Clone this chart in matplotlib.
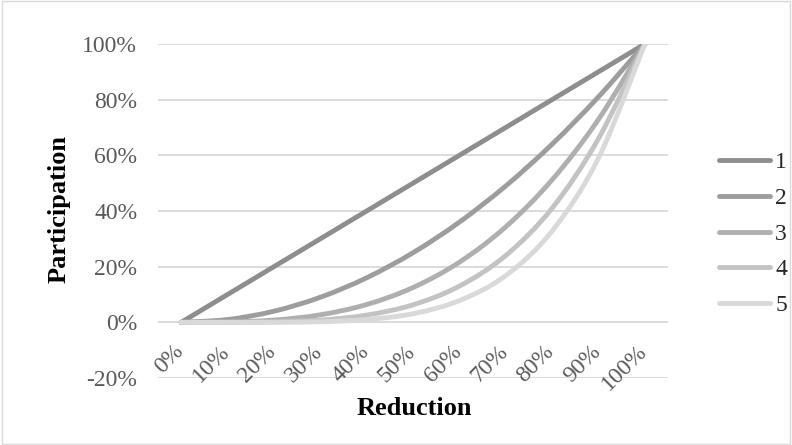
import numpy as np
import matplotlib
matplotlib.use("Agg")
import matplotlib.pyplot as plt
from matplotlib.path import Path
from matplotlib.patches import PathPatch, Rectangle
from matplotlib.lines import Line2D

# ---------------------------------------------------------------------
# DATA (in %)
# ---------------------------------------------------------------------
x_labels = ["0%", "10%", "20%", "30%", "40%", "50%", "60%", "70%", "80%", "90%", "100%"]
series_names = ["1", "2", "3", "4", "5"]

s1 = [0, 10, 20, 30, 40, 50, 60, 70, 80, 90, 100]
s2 = [0, 1, 4, 9, 16, 25, 36, 49, 64, 81, 100]
s3 = [0, 0.1, 0.8, 2.7, 6.4, 12.5, 21.6, 34.3, 51.2, 72.9, 100]
s4 = [0, 0, 0.2, 0.8, 2.6, 6.3, 13, 24, 41, 66, 100]
s5 = [0, 0, 0, 0.2, 1, 3.1, 7.8, 16.8, 32.8, 59, 100]

y_ticks = [-20, 0, 20, 40, 60, 80, 100]

colors = ["#8e8e8e", "#9d9d9d", "#afafaf", "#c3c3c3", "#d9d9d9"]

plt.rcParams["font.family"] = ["Liberation Serif", "DejaVu Serif"]

LW = 3.5
FS = 17


# ---------------------------------------------------------------------
# smoothed line like Excel (bezier through the points)
# ---------------------------------------------------------------------
def smooth_path(xs, ys):
    pts = np.column_stack([xs, ys]).astype(float)
    n = len(pts)
    verts = [pts[0]]
    codes = [Path.MOVETO]
    for i in range(n - 1):
        p0 = pts[max(i - 1, 0)]
        p1 = pts[i]
        p2 = pts[i + 1]
        p3 = pts[min(i + 2, n - 1)]
        c1 = p1 + (p2 - p0) / 6.0
        c2 = p2 - (p3 - p1) / 6.0
        verts += [c1, c2, p2]
        codes += [Path.CURVE4] * 3
    return Path(verts, codes)


fig = plt.figure(figsize=(7.92, 4.45), dpi=100)
ax = fig.add_axes([158 / 792, 1 - 378 / 445, 510 / 792, 334 / 445])

xs = np.arange(len(x_labels))
all_series = [s1, s2, s3, s4, s5]

for ys, c in zip(all_series, colors):
    patch = PathPatch(smooth_path(xs, ys), facecolor="none", edgecolor=c,
                      lw=LW, capstyle="round", joinstyle="round")
    ax.add_patch(patch)

ax.set_xlim(-0.5, len(x_labels) - 0.5)
ax.set_ylim(-20, 100)
ax.set_yticks(y_ticks)
ax.set_yticklabels([f"{t}%" for t in y_ticks])
ax.set_xticks([])
ax.grid(axis="y", color="#d9d9d9", lw=1.3)
ax.set_axisbelow(True)
for sp in ax.spines.values():
    sp.set_visible(False)
ax.tick_params(axis="y", length=0, pad=15, labelsize=FS, labelcolor="#595959")

# category labels sit just under the 0% line
for i, lab in enumerate(x_labels):
    ax.annotate(lab, xy=(i, 0), xycoords="data", xytext=(-1, -26),
                textcoords="offset pixels", rotation=45, rotation_mode="anchor",
                ha="right", va="center", fontsize=FS, color="#595959")

fig.text(414 / 792, 1 - 415 / 445, "Reduction", ha="center", va="baseline",
         fontsize=19, fontweight="bold")
fig.text(66 / 792, 1 - 209 / 445, "Participation", ha="center", va="baseline",
         rotation=90, rotation_mode="anchor", fontsize=19, fontweight="bold")

handles = [Line2D([], [], color=c, lw=LW, solid_capstyle="round") for c in colors]
fig.legend(handles, series_names, loc="center left",
           bbox_to_anchor=(702 / 792, 1 - 234 / 445), frameon=False,
           fontsize=FS, handlelength=2.2, handletextpad=0.2,
           labelspacing=0.6, labelcolor="#262626", borderpad=0.2)

fig.patches.append(Rectangle((0.002, 0.003), 0.995, 0.994, transform=fig.transFigure,
                             fill=False, edgecolor="#d9d9d9", lw=1.0))

fig.savefig("out.png", dpi=100)
plt.close(fig)
